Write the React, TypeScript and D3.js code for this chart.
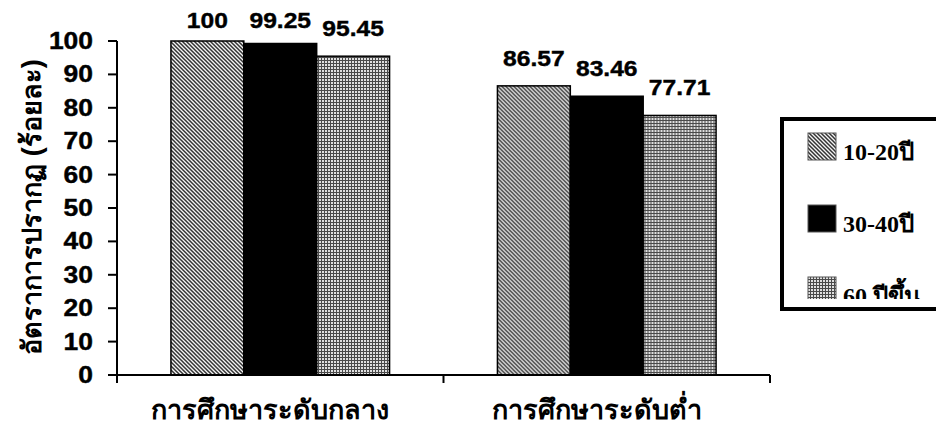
import React from "react";
import * as d3 from "d3";

const categories = ["การศึกษาระดับกลาง", "การศึกษาระดับต่ำ"];
const seriesNames = ["10-20ปี", "30-40ปี", "60 ปีขึ้น"];
const series1 = [100, 86.57];
const series2 = [99.25, 83.46];
const series3 = [95.45, 77.71];
const yTicks = [0, 10, 20, 30, 40, 50, 60, 70, 80, 90, 100];
const yTitle = "อัตราการปรากฏ (ร้อยละ)";

const W = 936;
const H = 428;

export default function App() {
  const seriesValues = [series1, series2, series3];
  const x0 = d3.scaleBand<string>().domain(categories).range([117, 770]).paddingInner(0).paddingOuter(0);
  const x1 = d3
    .scaleBand<number>()
    .domain([0, 1, 2])
    .range([0, x0.bandwidth()])
    .paddingOuter(0.74)
    .paddingInner(0);
  const y = d3.scaleLinear().domain([0, 100]).range([375, 41]);
  const fills = ["url(#diag)", "#000", "url(#grid)"];
  const sans = "'Liberation Sans', Arial, sans-serif";
  const serif = "'Liberation Serif', 'Times New Roman', serif";

  const legendY = d3.scaleLinear().domain([0, 1]).range([133, 205]);

  return (
    <svg width={W} height={H} style={{ position: "absolute", left: 0, top: 0 }}>
      <defs>
        <pattern id="diag" width="4" height="4" patternUnits="userSpaceOnUse">
          <rect width="4" height="4" fill="#f4f4f4" />
          <path d="M0,0 L4,4 M-1,3 L1,5 M3,-1 L5,1" stroke="#333" strokeWidth="1.5" />
        </pattern>
        <pattern id="grid" width="3" height="3" patternUnits="userSpaceOnUse">
          <rect width="3" height="3" fill="#e0e0e0" />
          <rect x="0" y="0" width="3" height="1" fill="#4a4a4a" />
          <rect x="0" y="0" width="1" height="3" fill="#4a4a4a" />
        </pattern>
        <clipPath id="legclip">
          <rect x="784" y="121" width="160" height="178" />
        </clipPath>
      </defs>
      <rect width={W} height={H} fill="#fff" />

      {/* bars */}
      {categories.map((c, ci) => (
        <g key={c} transform={`translate(${x0(c)},0)`}>
          {seriesValues.map((s, si) => (
            <rect
              key={si}
              x={x1(si)}
              y={y(s[ci])}
              width={x1.bandwidth()}
              height={y(0) - y(s[ci])}
              fill={fills[si]}
              stroke="#000"
              strokeWidth={1.5}
            />
          ))}
          {seriesValues.map((s, si) => (
            <text
              key={"l" + si}
              transform={`translate(${(x1(si) ?? 0) + x1.bandwidth() / 2},${Math.max(y(s[ci]) - 20, 28)}) scale(1.12,1)`}
              textAnchor="middle"
              fontFamily={sans}
              fontWeight="bold"
              fontSize={22}
              fill="#000"
              stroke="#000"
              strokeWidth={0.4}
            >
              {s[ci]}
            </text>
          ))}
        </g>
      ))}

      {/* y axis */}
      <line x1={117} x2={117} y1={y(100)} y2={y(0)} stroke="#000" strokeWidth={2} />
      {yTicks.map((t) => (
        <g key={t}>
          <line x1={108} x2={117} y1={y(t)} y2={y(t)} stroke="#000" strokeWidth={2} />
          <text
            transform={`translate(93,${y(t) + 8}) scale(1.15,1)`}
            textAnchor="end"
            fontFamily={sans}
            fontWeight="bold"
            fontSize={23}
            fill="#000"
            stroke="#000"
            strokeWidth={0.4}
          >
            {t}
          </text>
        </g>
      ))}

      {/* x axis */}
      <line x1={117} x2={770} y1={375} y2={375} stroke="#000" strokeWidth={2} />
      {[117, (x0(categories[1]) ?? 0), 770].map((xx, i) => (
        <line key={i} x1={xx} x2={xx} y1={375} y2={383} stroke="#000" strokeWidth={2} />
      ))}
      {categories.map((c) => (
        <text
          key={c}
          x={(x0(c) ?? 0) + x0.bandwidth() / 2 - 10}
          y={419}
          textAnchor="middle"
          fontFamily={sans}
          fontWeight="bold"
          fontSize={27}
          fill="#000"
        >
          {c}
        </text>
      ))}

      {/* y title */}
      <text
        transform="translate(41,207) rotate(-90)"
        textAnchor="middle"
        fontFamily={sans}
        fontWeight="bold"
        fontSize={27}
        fill="#000"
      >
        {yTitle}
      </text>

      {/* legend */}
      <rect x={782} y={119} width={170} height={190} fill="#fff" stroke="#000" strokeWidth={4} />
      <g clipPath="url(#legclip)">
        {seriesNames.map((n, i) => {
          const yy = legendY(i);
          return (
            <g key={n}>
              <rect x={808} y={yy} width={28} height={27} fill={fills[i]} stroke="#555" strokeWidth={1} />
              <text x={843} y={yy + 27} fontFamily={serif} fontWeight="bold" fontSize={24} fill="#000">
                {n}
              </text>
            </g>
          );
        })}
      </g>
    </svg>
  );
}
